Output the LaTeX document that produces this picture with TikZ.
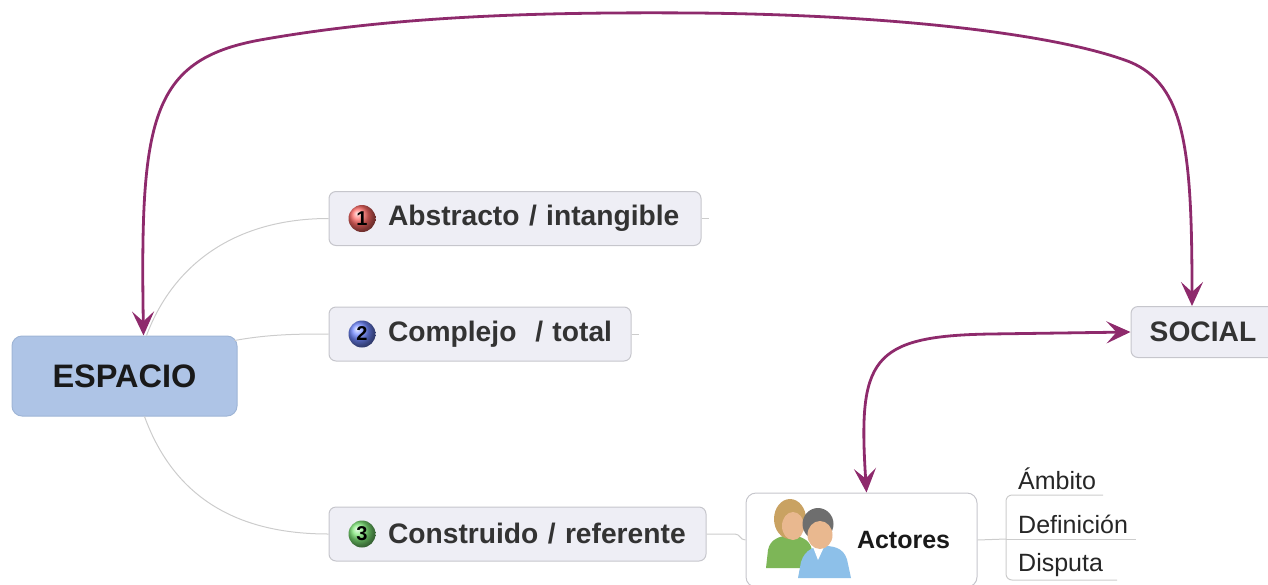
\documentclass[tikz,border=0pt]{standalone}
\usepackage{fontspec}
\setmainfont{Liberation Sans}
\usetikzlibrary{arrows.meta,calc}
\definecolor{topicfill}{HTML}{EEEEF5}
\definecolor{topicdraw}{HTML}{C6C6CC}
\definecolor{espfill}{HTML}{AEC4E6}
\definecolor{espdraw}{HTML}{9FB5D6}
\definecolor{purp}{HTML}{8E2A6C}
\definecolor{connc}{HTML}{CCCCCC}
\definecolor{txt}{HTML}{333333}
\definecolor{ballred}{HTML}{FF6A66}
\definecolor{ballblue}{HTML}{7088FF}
\definecolor{ballgreen}{HTML}{7FE878}
\definecolor{hairw}{HTML}{C9A262}
\definecolor{hairm}{HTML}{6E6E6E}
\definecolor{skin}{HTML}{E9B88F}
\definecolor{shirtg}{HTML}{7DB657}
\definecolor{shirtb}{HTML}{8DC0E9}
\begin{document}
\begin{tikzpicture}[x=1pt,y=-1pt,
  topic/.style={draw=topicdraw, fill=topicfill, rounded corners=7pt, line width=1pt,
    minimum height=54pt, inner xsep=0pt, align=left,
    font=\fontsize{28.2}{31}\selectfont\bfseries, text=txt},
  numball/.style={circle, shading=ball, minimum size=27pt, inner sep=0pt,
    font=\fontsize{20}{20}\selectfont\bfseries, text=black},
  conn/.style={draw=connc, line width=1pt},
  rel/.style={draw=purp, line width=2.8pt,
    {Stealth[length=24pt,width=22pt,inset=10pt]}-{Stealth[length=24pt,width=22pt,inset=10pt]}},
  sub/.style={inner xsep=0pt, inner ysep=5pt, anchor=south west,
    font=\fontsize{25}{28}\selectfont, text=black!85}
]
\useasboundingbox (0,0) rectangle (1268,584);

% central topic
\node[draw=espdraw, fill=espfill, rounded corners=10pt, line width=1pt,
  minimum width=225pt, minimum height=80pt,
  font=\fontsize{32.5}{35}\selectfont\bfseries, text=black!90] (esp) at (124.5,376) {ESPACIO};

% main topics
\node[topic, text width=372pt] (abs) at (515,218.5) {\hspace*{59pt}Abstracto / intangible};
\node[topic, text width=302pt] (com) at (480,334) {\hspace*{59pt}Complejo\ \ / total};
\node[topic, text width=377pt] (con) at (517.5,534) {\hspace*{59pt}Construido / referente};

\node[numball, ball color=ballred] (b1) at (362,218.5) {1};
\node[numball, ball color=ballblue] (b2) at (362,334) {2};
\node[numball, ball color=ballgreen] (b3) at (362,534) {3};

% SOCIAL
\node[topic, minimum width=144pt, minimum height=51pt, inner xsep=0pt, align=center] (soc) at (1203,332) {SOCIAL};

% Actores
\node[draw=topicdraw, fill=white, rounded corners=10pt, line width=1pt,
  text width=231pt, minimum height=94pt, inner xsep=0pt, align=left,
  font=\fontsize{25}{28}\selectfont\bfseries, text=black!90] (act) at (861.5,540) {\hspace*{111pt}Actores};

% people icon
\begin{scope}
  \fill[shirtg] (766,568) -- (768,550) .. controls (770,539) and (780,536) .. (790,535)
    .. controls (800,536) and (810,539) .. (812,550) -- (812,568) -- cycle;
  \fill[hairw] (790,519) ellipse [x radius=16, y radius=20];
  \fill[skin] (793,526) ellipse [x radius=11, y radius=14];
  \fill[shirtb] (798,578) -- (801,562) .. controls (805,549) and (815,546) .. (825,546)
    .. controls (837,546) and (846,550) .. (848,564) -- (851,578) -- cycle;
  \fill[white] (813,547) -- (824,547) -- (818,560) -- cycle;
  \fill[hairm] (818,524) ellipse [x radius=15.5, y radius=16];
  \fill[skin] (820,535) ellipse [x radius=12.5, y radius=14];
\end{scope}

% subtopics
\node[sub] (amb) at (1006,495) {\hspace*{12pt}Ámbito\hspace*{7pt}};
\node[sub] (def) at (1006,539) {\hspace*{12pt}Definición\hspace*{8pt}};
\node[sub, inner ysep=3pt] (dis) at (1006,580) {\hspace*{12pt}Disputa\hspace*{14pt}};

% grey connectors
\draw[conn] ($(esp.north)+(22,0)$) .. controls (175,260) and (240,218.5) .. (abs.west);
\draw[conn] ($(esp.north east)+(-3,5)$) .. controls (270,334) and (300,334) .. (com.west);
\draw[conn] ($(esp.south)+(20,0)$) .. controls (175,500) and (240,534) .. (con.west);
\draw[conn] (abs.east) -- ++(7,0);
\draw[conn] (com.east) -- ++(7,0);
\draw[conn] (con.east) -- (735,534) .. controls (740,534) and (740,540) .. (act.west);
\draw[conn] (act.east) -- (def.south west);
\draw[conn, rounded corners=6pt] (amb.south east) -- (amb.south west) -- (dis.south west) -- (dis.south east);
\draw[conn] (def.south west) -- (def.south east);

% relationships
\draw[rel] ($(esp.north)+(19,0)$) .. controls (140,120) and (150,60) .. (260,40)
  .. controls (400,15) and (550,12) .. (696,13)
  .. controls (900,15) and (1060,35) .. (1130,62)
  .. controls (1185,85) and (1192,150) .. ($(soc.north)+(-11,0)$);
\draw[rel] ($(act.north)+(5,0)$) .. controls (858,360) and (870,336) .. (990,334) -- (soc.west);
\end{tikzpicture}
\end{document}
